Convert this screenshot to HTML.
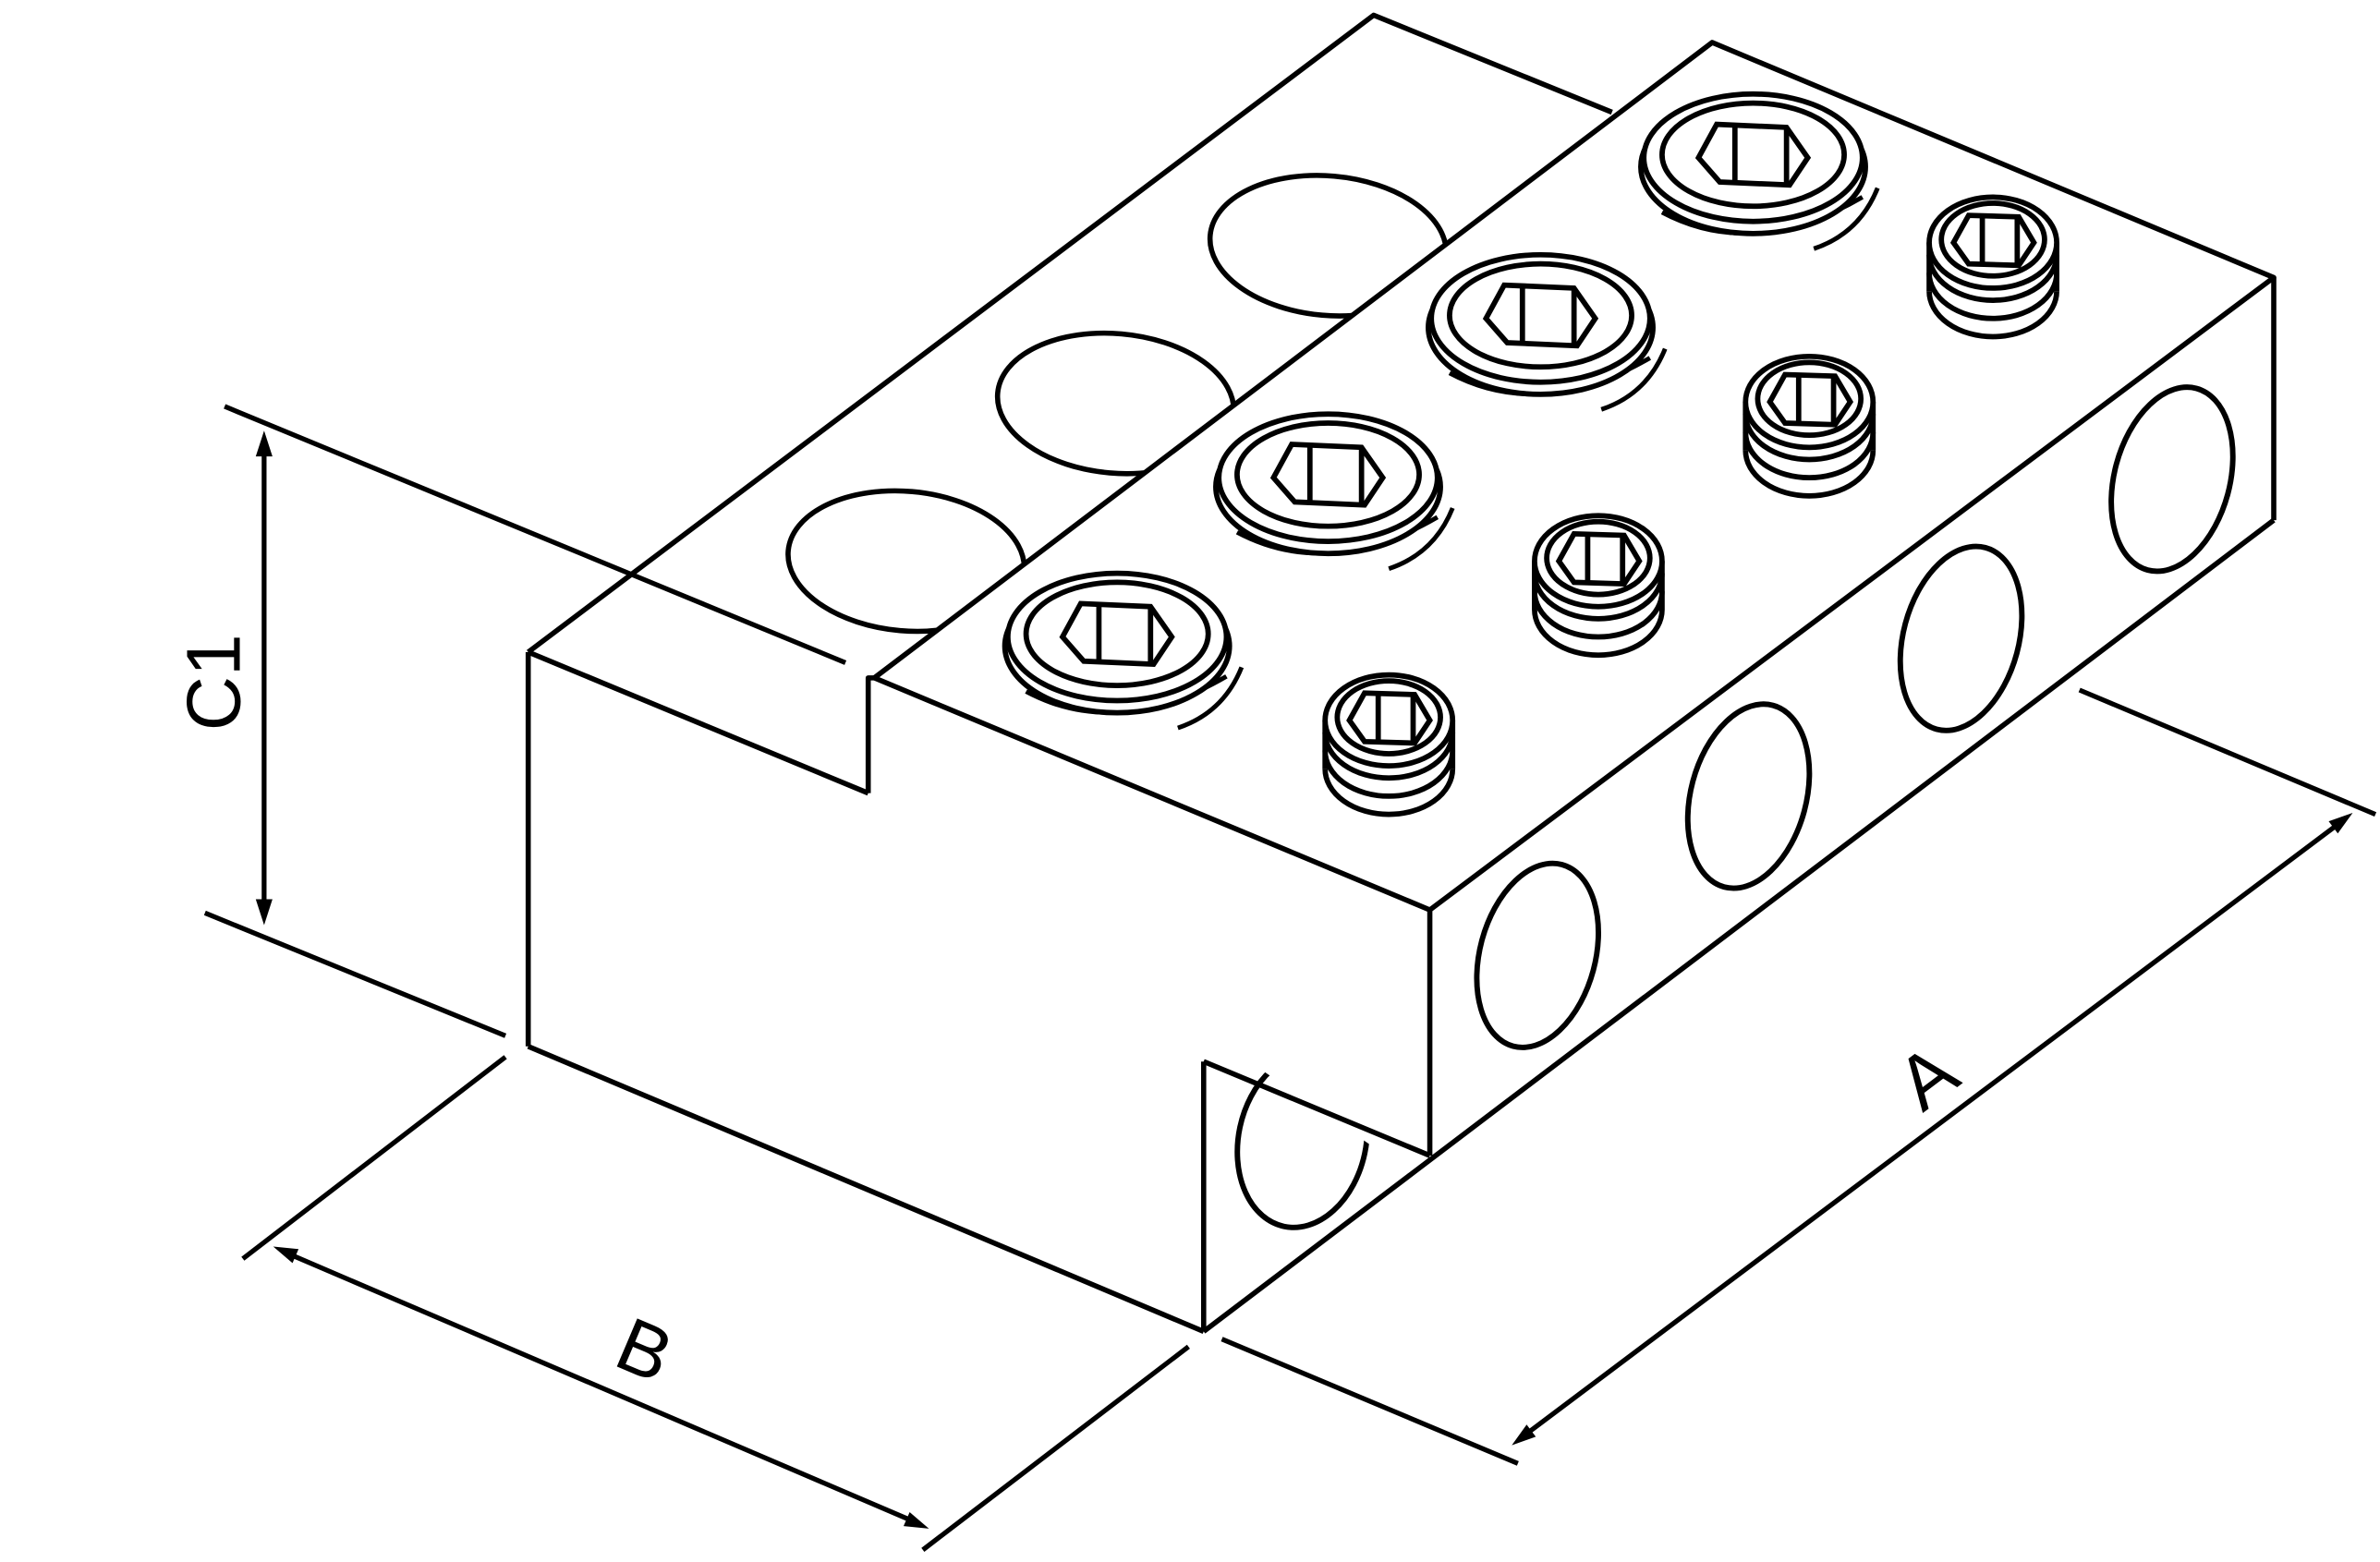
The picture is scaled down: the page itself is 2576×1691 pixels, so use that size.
<!DOCTYPE html>
<html><head><meta charset="utf-8"><style>
html,body{margin:0;padding:0;background:#fff;}
svg{display:block;}
</style></head><body>
<svg width="2576" height="1691" viewBox="0 0 1568 1030" preserveAspectRatio="none" xmlns="http://www.w3.org/2000/svg">
<defs>
<g id="cap">
<path d="M-60,38 Q0,70 72,28" fill="none" stroke="#000" stroke-width="3"/>
<path d="M40,62 Q70,52 82,22" fill="none" stroke="#000" stroke-width="3"/>
<ellipse cx="0" cy="8" rx="74" ry="44" fill="#fff" stroke="#000" stroke-width="3.5"/>
<ellipse cx="0" cy="2" rx="72" ry="42" fill="#fff" stroke="#000" stroke-width="3.5"/>
<ellipse cx="0" cy="0" rx="60" ry="34" fill="#fff" stroke="#000" stroke-width="3.5"/>
<polygon points="-36,2 -24,-20 22,-18 36,2 24,20 -22,18" fill="#fff" stroke="#000" stroke-width="3.5"/>
<line x1="-12" y1="-19" x2="-12" y2="19" stroke="#000" stroke-width="3.5"/>
<line x1="22" y1="-18" x2="22" y2="19" stroke="#000" stroke-width="3.5"/>
</g>
<g id="set">
<path d="M-42,0 V34 A42,30 0 0 0 42,34 V0 Z" fill="#fff" stroke="none"/>
<path d="M-42,32 A42,30 0 0 0 42,32" fill="none" stroke="#000" stroke-width="3.5"/>
<path d="M-42,20 A42,30 0 0 0 42,20" fill="none" stroke="#000" stroke-width="3.5"/>
<path d="M-42,8 A42,30 0 0 0 42,8" fill="none" stroke="#000" stroke-width="3.5"/>
<path d="M-42,0 V32 M42,0 V32" fill="none" stroke="#000" stroke-width="3.5"/>
<ellipse cx="0" cy="0" rx="42" ry="30" fill="#fff" stroke="#000" stroke-width="3.5"/>
<ellipse cx="0" cy="-2" rx="34" ry="24" fill="#fff" stroke="#000" stroke-width="3.5"/>
<polygon points="-26,0 -16,-18 17,-17 27,0 17,15 -16,14" fill="#fff" stroke="#000" stroke-width="3.5"/>
<line x1="-7" y1="-18" x2="-7" y2="15" stroke="#000" stroke-width="3.5"/>
<line x1="16" y1="-17" x2="16" y2="15" stroke="#000" stroke-width="3.5"/>
</g>
<clipPath id="notch"><polygon points="793,700 942,762 793,878"/></clipPath>
</defs>

<g fill="none" stroke="#000" stroke-width="3.4" stroke-linejoin="round">
<polyline points="348,430 905,10 1062,74"/>
<line x1="348" y1="430" x2="348" y2="690"/>
<line x1="348" y1="430" x2="572" y2="523"/>
<line x1="348" y1="690" x2="793" y2="878"/>
<ellipse cx="875" cy="162" rx="78" ry="46" transform="rotate(5 875 162)"/>
<ellipse cx="735" cy="266" rx="78" ry="46" transform="rotate(5 735 266)"/>
<ellipse cx="597" cy="370" rx="78" ry="46" transform="rotate(5 597 370)"/>
<polygon points="576,447 1128,28 1498,183 942,600" fill="#fff"/>
<polyline points="572,523 572,447 576,447"/>
<line x1="942" y1="600" x2="942" y2="762"/>
<line x1="1498" y1="183" x2="1498" y2="343"/>
<line x1="793" y1="878" x2="1498" y2="343"/>
<line x1="793" y1="700" x2="793" y2="878"/>
<line x1="793" y1="700" x2="942" y2="762"/>
<ellipse cx="858" cy="752" rx="42" ry="58" transform="rotate(12 858 752)" clip-path="url(#notch)" stroke-width="3.6"/>
<ellipse cx="1013" cy="630" rx="38" ry="62" transform="rotate(15 1013 630)" stroke-width="3.6"/>
<ellipse cx="1152" cy="525" rx="38" ry="62" transform="rotate(15 1152 525)" stroke-width="3.6"/>
<ellipse cx="1292" cy="421" rx="38" ry="62" transform="rotate(15 1292 421)" stroke-width="3.6"/>
<ellipse cx="1431" cy="316" rx="38" ry="62" transform="rotate(15 1431 316)" stroke-width="3.6"/>
</g>

<use href="#cap" x="1155" y="102"/>
<use href="#cap" x="1015" y="208"/>
<use href="#cap" x="875" y="313"/>
<use href="#cap" x="736" y="418"/>
<use href="#set" x="1313" y="160"/>
<use href="#set" x="1192" y="265"/>
<use href="#set" x="1053" y="370"/>
<use href="#set" x="915" y="475"/>

<g stroke="#000" stroke-width="3.2" fill="none">
<line x1="148" y1="268" x2="557" y2="437"/>
<line x1="135" y1="602" x2="333" y2="683"/>
<line x1="174" y1="290" x2="174" y2="604"/>
<line x1="160" y1="830" x2="333" y2="697"/>
<line x1="608" y1="1022" x2="783" y2="888"/>
<line x1="186" y1="825" x2="606" y2="1005"/>
<line x1="805" y1="883" x2="1000" y2="965"/>
<line x1="1370" y1="455" x2="1565" y2="537"/>
<line x1="1001" y1="949" x2="1545" y2="540"/>
</g>
<g fill="#000" stroke="none">
<polygon points="174,284 168.5,301 179.5,301"/>
<polygon points="174,610 168.5,593 179.5,593"/>
<polygon points="180,822 192.7,832.9 196.7,823.7"/>
<polygon points="612,1008 595.3,1006.3 599.3,997.1"/>
<polygon points="996,953 1011.8,947.4 1005.8,939.4"/>
<polygon points="1550,536 1540.2,549.6 1534.2,541.6"/>
</g>
<g font-family="Liberation Sans, DejaVu Sans, sans-serif" font-size="50" fill="#000">
<text x="0" y="0" text-anchor="middle" transform="translate(158,450) rotate(-90)">C1</text>
<text x="0" y="0" text-anchor="middle" transform="translate(418,906) rotate(23)">B</text>
<text x="0" y="0" text-anchor="middle" transform="translate(1280,724) rotate(-37)">A</text>
</g>
</svg>
</body></html>
